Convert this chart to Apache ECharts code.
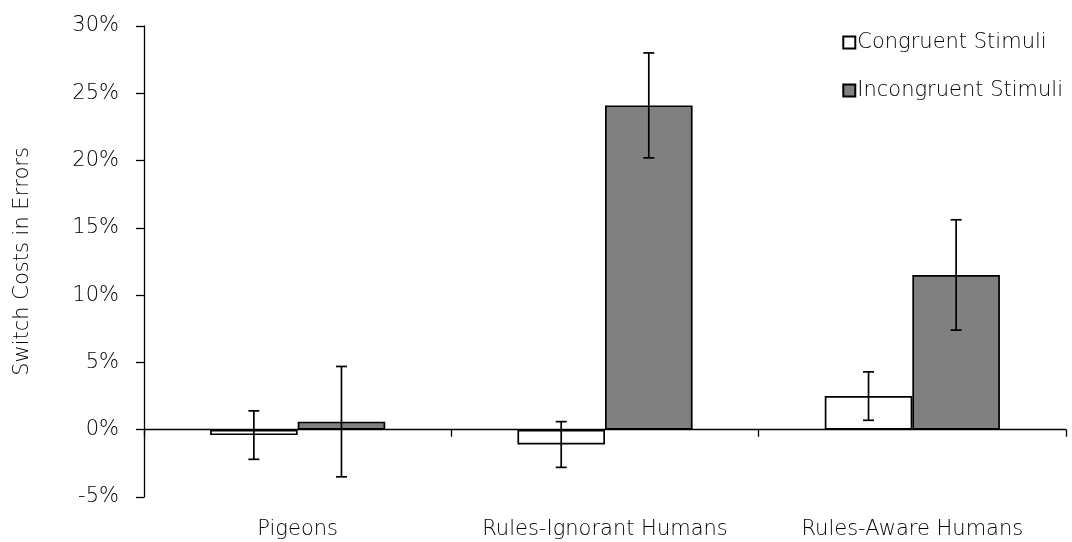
<!DOCTYPE html>
<html>
<head>
<meta charset="utf-8">
<script src="https://cdn.jsdelivr.net/npm/echarts@6/dist/echarts.min.js"></script>
<style>
  html, body { margin: 0; padding: 0; background: #fff; }
  #chart { width: 1072px; height: 542px; }
</style>
</head>
<body>
<div id="chart"></div>
<script>
// Switch costs in errors (%) by group and stimulus type
const categories = ['Pigeons', 'Rules-Ignorant Humans', 'Rules-Aware Humans'];
const seriesNames = ['Congruent Stimuli', 'Incongruent Stimuli'];
const congruent = [-0.4, -1.1, 2.5];
const incongruent = [0.6, 24.1, 11.5];
// standard errors (symmetric)
const congruentErr = [1.8, 1.7, 1.8];
const incongruentErr = [4.1, 3.9, 4.1];
const yTicks = { min: -5, max: 30, interval: 5 };

const FONT = '"DejaVu Sans", "Open Sans", sans-serif';
const FONT_SIZE = 21;
const FONT_WEIGHT = 200;
const TEXT = '#000';
const BAR_GAP = '43%';

const chart = echarts.init(document.getElementById('chart'));

function errorData(values, errs) {
  return values.map((v, i) => [i, v - errs[i], v + errs[i]]);
}

// error bars placed over the left (-1) or right (+1) bar of each group
function errorRenderer(side) {
  return function (params, api) {
    const idx = api.value(0);
    const lo = api.coord([idx, api.value(1)]);
    const hi = api.coord([idx, api.value(2)]);
    const band = api.size([1, 0])[0];
    const barW = band * (1 - parseFloat(BAR_GAP) / 100) / 2;
    const x = lo[0] + side * barW / 2;
    const cap = 5.5;
    const style = { stroke: '#000', lineWidth: 1.7 };
    return {
      type: 'group',
      children: [
        { type: 'line', shape: { x1: x, y1: lo[1], x2: x, y2: hi[1] }, style },
        { type: 'line', shape: { x1: x - cap, y1: lo[1], x2: x + cap, y2: lo[1] }, style },
        { type: 'line', shape: { x1: x - cap, y1: hi[1], x2: x + cap, y2: hi[1] }, style }
      ]
    };
  };
}

const labelStyle = { fontFamily: FONT, fontSize: FONT_SIZE, fontWeight: FONT_WEIGHT, color: TEXT };

chart.setOption({
  backgroundColor: '#fff',
  animation: false,
  textStyle: { fontFamily: FONT },
  grid: { left: 144, right: 6, top: 26, bottom: 45, containLabel: false },
  legend: {
    orient: 'vertical',
    right: 4,
    top: 27,
    align: 'left',
    itemWidth: 12,
    itemHeight: 12,
    itemGap: 27,
    icon: 'rect',
    textStyle: Object.assign({ padding: [0, 0, 0, -3] }, labelStyle),
    data: seriesNames
  },
  xAxis: [
    {
      type: 'category',
      data: categories,
      axisLine: { onZero: true, lineStyle: { color: '#000', width: 1.3 } },
      axisTick: { show: true, length: 7, lineStyle: { color: '#000', width: 1.3 } },
      axisLabel: { show: false },
      splitLine: { show: false }
    },
    {
      type: 'category',
      data: categories,
      position: 'bottom',
      axisLine: { show: false, onZero: false },
      axisTick: { show: false },
      axisLabel: Object.assign({ show: true, interval: 0, margin: 22 }, labelStyle),
      splitLine: { show: false }
    }
  ],
  yAxis: {
    type: 'value',
    min: yTicks.min,
    max: yTicks.max,
    interval: yTicks.interval,
    name: 'Switch Costs in Errors',
    nameLocation: 'middle',
    nameGap: 111,
    nameRotate: 90,
    nameTextStyle: labelStyle,
    axisLine: { show: true, lineStyle: { color: '#000', width: 1.3 } },
    axisTick: { show: true, length: 8, lineStyle: { color: '#000', width: 1.3 } },
    axisLabel: Object.assign({ formatter: '{value}%', margin: 25 }, labelStyle),
    splitLine: { show: false }
  },
  series: [
    {
      name: seriesNames[0],
      type: 'bar',
      data: congruent,
      barGap: '0%',
      barCategoryGap: BAR_GAP,
      itemStyle: { color: '#fff', borderColor: '#000', borderWidth: 1.7 }
    },
    {
      name: seriesNames[1],
      type: 'bar',
      data: incongruent,
      barGap: '0%',
      barCategoryGap: BAR_GAP,
      itemStyle: { color: '#808080', borderColor: '#000', borderWidth: 1.7 }
    },
    {
      type: 'custom',
      renderItem: errorRenderer(-1),
      data: errorData(congruent, congruentErr),
      encode: { x: 0, y: [1, 2] },
      z: 5,
      silent: true
    },
    {
      type: 'custom',
      renderItem: errorRenderer(1),
      data: errorData(incongruent, incongruentErr),
      encode: { x: 0, y: [1, 2] },
      z: 5,
      silent: true
    }
  ]
});
</script>
</body>
</html>
